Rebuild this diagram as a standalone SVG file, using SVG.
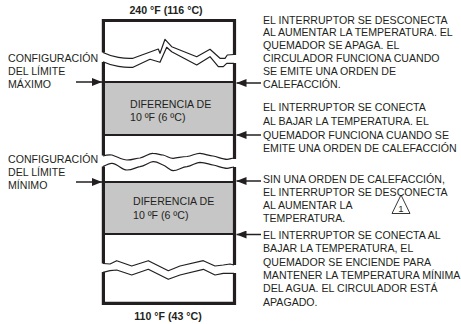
<svg xmlns="http://www.w3.org/2000/svg" width="461" height="324" viewBox="0 0 461 324">
<style>
text{font-family:"Liberation Sans",Arial,sans-serif;font-size:10.6px;fill:#231f20}
.b{font-weight:bold}
.wall{stroke:#231f20;stroke-width:3.2;fill:none}
.wave{stroke:#231f20;stroke-width:1.2;fill:none;stroke-linejoin:round}
.band{fill:#c6c6c6}
.sep{stroke:#231f20;stroke-width:1.8}
.arr{stroke:#231f20;stroke-width:1.5;fill:none}
</style>
<defs>
<marker id="ah" viewBox="0 0 10 8" refX="10" refY="4" markerWidth="10" markerHeight="8" markerUnits="userSpaceOnUse" orient="auto">
<path d="M0,0 L10,4 L0,8 Z" fill="#231f20"/>
</marker>
</defs>
<g id="column">
<rect class="band" x="104" y="82" width="129" height="53"/>
<rect class="band" x="104" y="182" width="129" height="52"/>
<line class="sep" x1="104" y1="82" x2="233" y2="82"/>
<line class="sep" x1="104" y1="135" x2="233" y2="135"/>
<line class="sep" x1="104" y1="182" x2="233" y2="182"/>
<line class="sep" x1="104" y1="234" x2="233" y2="234"/>
<path class="wall" d="M103.4,52.5 V20.5 H234.5 V55"/>
<path class="wall" d="M103.4,62 V155.5 M234.5,63 V159"/>
<path class="wall" d="M103.4,166.5 V263.5 M234.5,167 V265"/>
<path class="wall" d="M103.4,272 V303.4 H234.5 V273"/>
<path class="wave" d="M103,52.5 C112,57 125,59 133,58.3 L158.3,49 L160,53.3 L165,39.3 L171.7,46.7 L196.7,56.7 L210,49.3 L220,58.3 L225,58.3 L227.3,55 L234,54.5"/>
<path class="wave" d="M103,61.7 C112,66 125,68 133,67.3 L150,59.3 L160,62.3 L166.7,47.3 L171.7,51.7 L196.7,65 L210,56.7 L218.3,66.7 L223.3,66.7 L226.7,63.3 L234,63.3"/>
<path class="wave" d="M103,156 C106,155 109,154.5 112,155 C118,157 122,160 127,160 C133,160 136,158 140,158 C145,157 149,153 153,153.3 C158,153.5 160,155 163,155 C167,156 170,158.5 173.3,158.3 C178,158 182,156.5 187,156.5 C192,156 196,153 200,153.3 C206,154 209,156 213,156 C218,157 223,159.3 227,159.3 C230,159 232,158 234,158"/>
<path class="wave" d="M103,166.7 C106,165 109,163 112,163.3 C118,164 122,170 127,170 C133,170 136,167 140,166.7 C145,166 149,162 153,161.7 C158,161.5 160,164 163,165 C167,166.5 170,170.7 173.3,170.7 C178,170.5 182,167 187,166.7 C192,166 196,162.3 200,162.3 C206,162.5 209,164.5 213,165 C218,166 223,168.3 227,168.3 C230,168 232,167 234,167"/>
<path class="wave" d="M103,263.5 L110,264 L116.7,260.7 L131.7,266 L148.3,260.7 L168.3,270.7 L180,266 L203.3,260.7 L215,266 L223.3,265 L230,264 L234,265"/>
<path class="wave" d="M103,272.3 L110,270.7 L116.7,270 L131.7,275 L148.3,269.3 L168.3,279.3 L180,275 L203.3,269.3 L215,275 L223.3,273.3 L234,273.3"/>
<text x="130" y="107.5">DIFERENCIA DE</text>
<text x="130" y="120.5">10 ºF (6 ºC)</text>
<text x="133" y="205">DIFERENCIA DE</text>
<text x="133" y="218.5">10 ºF (6 ºC)</text>
</g>
<g id="top-label"><text class="b" x="166" y="13.5" text-anchor="middle">240 °F (116 °C)</text></g>
<g id="bottom-label"><text class="b" x="168" y="320" text-anchor="middle">110 °F (43 °C)</text></g>
<g id="max-label">
<text x="8" y="62">CONFIGURACIÓN</text>
<text x="8" y="75">DEL LÍMITE</text>
<text x="8" y="88">MÁXIMO</text>
</g>
<g id="min-label">
<text x="8" y="163">CONFIGURACIÓN</text>
<text x="8" y="176">DEL LÍMITE</text>
<text x="8" y="189">MÍNIMO</text>
</g>
<g id="note1">
<text x="263" y="23.5">EL INTERRUPTOR SE DESCONECTA</text>
<text x="263" y="36.3">AL AUMENTAR LA TEMPERATURA. EL</text>
<text x="263" y="49.1">QUEMADOR SE APAGA. EL</text>
<text x="263" y="61.9">CIRCULADOR FUNCIONA CUANDO</text>
<text x="263" y="74.7">SE EMITE UNA ORDEN DE</text>
<text x="263" y="87.5">CALEFACCIÓN.</text>
</g>
<g id="note2">
<text x="263" y="111.3">EL INTERRUPTOR SE CONECTA</text>
<text x="263" y="124.9">AL BAJAR LA TEMPERATURA. EL</text>
<text x="263" y="138.5">QUEMADOR FUNCIONA CUANDO SE</text>
<text x="263" y="152.1">EMITE UNA ORDEN DE CALEFACCIÓN</text>
</g>
<g id="note3">
<text x="263" y="182.5">SIN UNA ORDEN DE CALEFACCIÓN,</text>
<text x="263" y="195.8">EL INTERRUPTOR SE DESCONECTA</text>
<text x="263" y="209.1">AL AUMENTAR LA</text>
<text x="263" y="222.4">TEMPERATURA.</text>
</g>
<g id="note-flag">
<path d="M401,195 L392,213.5 L410,213.5 Z" fill="none" stroke="#231f20" stroke-width="0.9" stroke-linejoin="round"/>
<text x="401" y="211.5" text-anchor="middle" style="font-size:9.5px">1</text>
</g>
<g id="note4">
<text x="263" y="239">EL INTERRUPTOR SE CONECTA AL</text>
<text x="263" y="252.3">BAJAR LA TEMPERATURA, EL</text>
<text x="263" y="265.6">QUEMADOR SE ENCIENDE PARA</text>
<text x="263" y="278.9">MANTENER LA TEMPERATURA MÍNIMA</text>
<text x="263" y="292.2">DEL AGUA. EL CIRCULADOR ESTÁ</text>
<text x="263" y="305.5">APAGADO.</text>
</g>
<g id="connectors">
<line class="arr" x1="76" y1="82" x2="102" y2="82" marker-end="url(#ah)"/>
<line class="arr" x1="76" y1="182" x2="102" y2="182" marker-end="url(#ah)"/>
<line class="arr" x1="261" y1="83" x2="236.5" y2="83" marker-end="url(#ah)"/>
<line class="arr" x1="261" y1="135" x2="236.5" y2="135" marker-end="url(#ah)"/>
<line class="arr" x1="261" y1="181" x2="236.5" y2="181" marker-end="url(#ah)"/>
<line class="arr" x1="261" y1="234.5" x2="236.5" y2="234.5" marker-end="url(#ah)"/>
</g>
</svg>
